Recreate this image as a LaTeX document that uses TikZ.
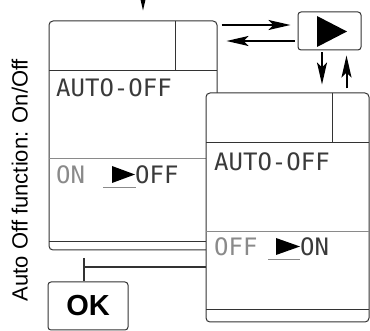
\documentclass[tikz,border=0pt]{standalone}
\usepackage{fontspec}
\setmainfont{Liberation Sans}
\newfontfamily\lcd{DejaVu Sans Mono}
\usetikzlibrary{arrows.meta}
\definecolor{frame}{HTML}{333333}
\definecolor{lcdgray}{HTML}{8A8A8A}
\definecolor{lcddark}{HTML}{3A3A3A}
\begin{document}
\begin{tikzpicture}[x=1pt,y=-1pt,
  screen/.style={draw=frame,line width=1pt,fill=white,rounded corners=4pt,minimum width=168pt,minimum height=229pt,inner sep=0pt},
  innerline/.style={draw=frame,line width=0.8pt},
  grayline/.style={draw=lcdgray,line width=0.8pt},
  lcdtxt/.style={font=\lcd\fontsize{24}{24}\selectfont,text=lcddark,inner sep=0pt,anchor=west},
  lcdgr/.style={font=\lcd\fontsize{24}{24}\selectfont,text=lcdgray,inner sep=0pt,anchor=west},
  arr/.style={line width=2pt,-{Stealth[length=22pt,width=10pt,inset=5pt]}},
  conn/.style={draw=frame,line width=1.5pt},
  btn/.style={draw=frame,line width=1pt,rounded corners=3pt,fill=white}]
\useasboundingbox (0,0) rectangle (370,331);
\clip (0,0) rectangle (370,331);
% vertical title
\node[rotate=90,anchor=base,font=\fontsize{22}{22}\selectfont,inner sep=0pt] (title) at (27.5,180) {Auto Off function: On/Off};
% screen 1
\node[screen] (s1) at (133,135.5) {};
\draw[innerline] (49,70) -- (217,70);
\draw[innerline] (175,21) -- (175,70);
\draw[grayline] (49,158) -- (217,158);
\draw[innerline] (49,241) -- (217,241);
\node[lcdtxt] (a1) at (56,88) {AUTO-OFF};
\node[lcdgr] (on1) at (56,175) {ON};
\fill[black] (112,166) -- (135,174.5) -- (112,183) -- cycle;
\node[lcdtxt] (off1) at (135,175) {OFF};
\draw[grayline,line width=0.6pt] (103,187) -- (136,187);
% play button
\node[btn,minimum width=63pt,minimum height=38pt] (play) at (329.5,31) {};
\fill[black] (317,16) -- (347,31.5) -- (317,47) -- cycle;
% screen 2
\node[screen,minimum width=163pt] (s2) at (287.5,207.5) {};
\draw[innerline] (206,142) -- (369,142);
\draw[innerline] (332,93) -- (332,142);
\draw[grayline] (206,231) -- (369,231);
\draw[innerline] (206,309) -- (369,309);
\node[lcdtxt] (a2) at (214,162) {AUTO-OFF};
\node[lcdgr] (off2) at (214,247) {OFF};
\fill[black] (276,238) -- (300,246.5) -- (276,255) -- cycle;
\node[lcdtxt] (on2) at (300,247) {ON};
\draw[grayline,line width=0.6pt] (268,259) -- (300,259);
% OK button
\node[btn,minimum width=80pt,minimum height=48pt,font=\bfseries\fontsize{29}{29}\selectfont] (ok) at (88,306) {OK};
% arrows
\coordinate (topin) at (143,-12);
\draw[arr] (topin) -- ([xshift=10pt,yshift=10pt]s1.north);
\draw[arr] ([xshift=4pt,yshift=6pt]s1.east |- play.west) -- ([xshift=-7pt,yshift=6pt]play.west);
\draw[arr] ([xshift=-3pt,yshift=-10pt]play.west) -- ([xshift=9pt,yshift=-10pt]s1.east |- play.west);
\coordinate (dn) at ([xshift=-7.5pt]play.south |- s2.north);
\coordinate (up) at ([xshift=17pt]play.south |- s2.north);
\draw[arr] ([xshift=-7.5pt,yshift=-2pt]play.south) -- ([yshift=8pt]dn);
\draw[arr] ([yshift=4pt]up) -- ([xshift=17pt,yshift=-5pt]play.south);
% OK connector
\coordinate (teetop) at (84,258);
\coordinate (tee) at (84,267);
\draw[conn] (teetop) -- ([xshift=-4pt]ok.north);
\draw[conn] (tee) -- (tee -| s2.west);
\end{tikzpicture}
\end{document}
